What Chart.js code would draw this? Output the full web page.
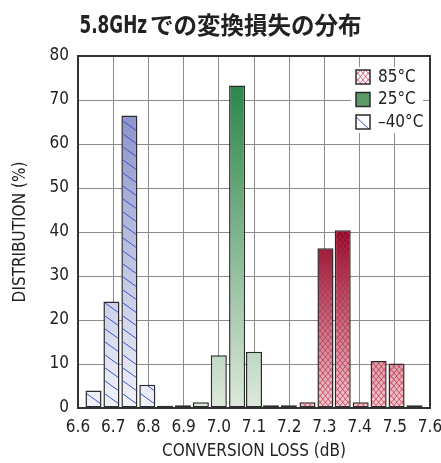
<!DOCTYPE html>
<html>
<head>
<meta charset="utf-8">
<script src="https://cdn.jsdelivr.net/npm/chart.js@4/dist/chart.umd.min.js"></script>
<style>
  html, body { margin: 0; padding: 0; background: #fff; }
  #wrap { width: 441px; height: 463px; }
</style>
</head>
<body>
<div id="wrap"><canvas id="c" width="441" height="463"></canvas></div>
<script>
// Conversion-loss bins (dB), one per histogram bar
const lossBins = [6.644, 6.695, 6.746, 6.797, 6.847, 6.898, 6.949, 7.000, 7.052, 7.100,
                  7.148, 7.199, 7.252, 7.303, 7.352, 7.403, 7.454, 7.505, 7.556];
// Distribution (%) per bin for each temperature
const distM40 = [4.0, 24.2, 66.5, 5.3, 0.5, null, null, null, null, null,
                 null, null, null, null, null, null, null, null, null];
const dist25  = [null, null, null, null, null, 0.6, 1.3, 12.0, 73.3, 12.8,
                 0.6, 0.6, null, null, null, null, null, null, null];
const dist85  = [null, null, null, null, null, null, null, null, null, null,
                 null, null, 1.3, 36.3, 40.4, 1.3, 10.7, 10.1, 0.6];
// Axis ticks
const lossTicks = [6.6, 6.7, 6.8, 6.9, 7.0, 7.1, 7.2, 7.3, 7.4, 7.5, 7.6];
const distTicks = [0, 10, 20, 30, 40, 50, 60, 70, 80];
const seriesLabels = ['–40°C', '25°C', '85°C'];
const titleText = '5.8GHzでの変換損失の分布';

const FONT = '"DejaVu Sans Condensed", "Noto Sans CJK JP", sans-serif';
const INK = '#222';

function points(values) {
  const out = [];
  values.forEach((v, i) => { if (v !== null) out.push({ x: lossBins[i], y: v }); });
  return out;
}

// Vertical gradient spanning from the tallest bar of a series down to zero
function seriesGradient(dark, light) {
  return (ctx) => {
    const chart = ctx.chart;
    if (!chart.chartArea) return light;
    const ds = chart.data.datasets[ctx.datasetIndex];
    const top = chart.scales.y.getPixelForValue(Math.max(...ds.data.map(p => p.y)));
    const bottom = chart.scales.y.getPixelForValue(0);
    const g = chart.ctx.createLinearGradient(0, top, 0, bottom);
    g.addColorStop(0, dark);
    g.addColorStop(1, light);
    return g;
  };
}

function drawHatch(ctx, l, t, r, b, kind) {
  ctx.save();
  ctx.beginPath();
  ctx.rect(l, t, r - l, b - t);
  ctx.clip();
  const w = r - l;
  if (kind === 'diag') {
    ctx.strokeStyle = '#3b57c8';
    ctx.lineWidth = 1;
    const slope = 0.72, gap = 13;
    ctx.beginPath();
    for (let y0 = b + gap; y0 > t - slope * w - gap; y0 -= gap) {
      ctx.moveTo(l, y0);
      ctx.lineTo(r, y0 + slope * w);
    }
    ctx.stroke();
  } else if (kind === 'cross') {
    ctx.strokeStyle = 'rgba(196,36,70,0.85)';
    ctx.lineWidth = 0.8;
    const slope = 1.25, gap = 6.5;
    ctx.beginPath();
    for (let y0 = b + gap; y0 > t - slope * w - gap; y0 -= gap) {
      ctx.moveTo(l, y0);
      ctx.lineTo(r, y0 + slope * w);
      ctx.moveTo(l, y0 + slope * w);
      ctx.lineTo(r, y0);
    }
    ctx.stroke();
  }
  ctx.restore();
}

// Plot frame plus hatching over the bars
const hatchPlugin = {
  id: 'hatch',
  beforeDatasetsDraw(chart) {
    const { ctx, chartArea: a } = chart;
    ctx.save();
    ctx.strokeStyle = '#333';
    ctx.lineWidth = 2;
    ctx.strokeRect(a.left, a.top, a.right - a.left, a.bottom - a.top);
    ctx.restore();
  },
  afterDatasetsDraw(chart) {
    const ctx = chart.ctx;
    chart.data.datasets.forEach((ds, i) => {
      if (!ds.hatch) return;
      chart.getDatasetMeta(i).data.forEach(el => {
        const p = el.getProps(['x', 'y', 'base', 'width'], true);
        const inset = 1;
        drawHatch(ctx, p.x - p.width / 2 + inset, Math.min(p.y, p.base) + inset,
                  p.x + p.width / 2 - inset, Math.max(p.y, p.base) - inset, ds.hatch);
      });
    });
  }
};

// Key drawn in the upper right of the plot
const keyPlugin = {
  id: 'key',
  afterDatasetsDraw(chart) {
    const { ctx, chartArea: a } = chart;
    const x0 = a.right - 79, y0 = a.top + 11, rowH = 22.5, box = 14;
    ctx.save();
    ctx.fillStyle = '#fff';
    ctx.fillRect(x0, y0, 72, 66);
    const order = [2, 1, 0];
    order.forEach((di, row) => {
      const ds = chart.data.datasets[di];
      const bx = x0 + 5, by = y0 + 3 + row * rowH;
      ctx.fillStyle = ds.keyFill;
      ctx.fillRect(bx, by, box, box);
      if (ds.hatch === 'cross') drawHatch(ctx, bx, by, bx + box, by + box, 'cross');
      if (ds.hatch === 'diag') {
        ctx.save();
        ctx.beginPath(); ctx.rect(bx, by, box, box); ctx.clip();
        ctx.strokeStyle = '#3b57c8'; ctx.lineWidth = 1;
        ctx.beginPath(); ctx.moveTo(bx, by + 2); ctx.lineTo(bx + box, by + box + 1); ctx.stroke();
        ctx.restore();
      }
      ctx.strokeStyle = '#2b2b2b';
      ctx.lineWidth = 1.5;
      ctx.strokeRect(bx, by, box, box);
      ctx.fillStyle = INK;
      ctx.font = '17px ' + FONT;
      ctx.textBaseline = 'middle';
      ctx.textAlign = 'left';
      ctx.fillText(ds.label, bx + box + 8, by + box / 2 + 0.5);
    });
    ctx.restore();
  }
};

// Heading: condensed bold Latin run followed by the Japanese run
const headingPlugin = {
  id: 'heading',
  afterDraw(chart) {
    const ctx = chart.ctx;
    const m = titleText.match(/^[\x00-\x7F]+/);
    const latin = m ? m[0] : '';
    const jp = titleText.slice(latin.length);
    const sx = 0.78, baseline = 33, gap = 3;
    ctx.save();
    ctx.fillStyle = INK;
    ctx.textBaseline = 'alphabetic';
    ctx.textAlign = 'left';
    ctx.font = 'bold 24px "DejaVu Sans Condensed", sans-serif';
    const latinW = ctx.measureText(latin).width * sx;
    ctx.font = 'bold 23.5px "Noto Sans CJK JP", sans-serif';
    const jpW = ctx.measureText(jp).width;
    const x0 = chart.width / 2 - (latinW + gap + jpW) / 2;
    ctx.fillText(jp, x0 + latinW + gap, baseline + 1);
    ctx.translate(x0, baseline);
    ctx.scale(sx, 1);
    ctx.font = 'bold 24px "DejaVu Sans Condensed", sans-serif';
    ctx.fillText(latin, 0, 0);
    ctx.restore();
  }
};

new Chart(document.getElementById('c'), {
  type: 'bar',
  data: {
    datasets: [
      { label: seriesLabels[0], data: points(distM40), hatch: 'diag', keyFill: '#ffffff',
        backgroundColor: seriesGradient('#8d94cb', '#f1f2fb') },
      { label: seriesLabels[1], data: points(dist25), hatch: null, keyFill: '#5e9a68',
        backgroundColor: seriesGradient('#2c8748', '#dde9db') },
      { label: seriesLabels[2], data: points(dist85), hatch: 'cross', keyFill: '#ffffff',
        backgroundColor: seriesGradient('#8a0828', '#f2cfd3') }
    ]
  },
  options: {
    responsive: false,
    animation: false,
    devicePixelRatio: 1,
    layout: { padding: { left: 0, right: 11, top: 56, bottom: 0 } },
    datasets: {
      bar: {
        grouped: false,
        barPercentage: 0.95,
        categoryPercentage: 1,
        borderColor: '#2b2b2b',
        borderWidth: 1.5,
        borderSkipped: false
      }
    },
    plugins: {
      legend: { display: false },
      tooltip: { enabled: false },
      title: { display: false }
    },
    scales: {
      x: {
        type: 'linear',
        offset: false,
        min: 6.6, max: 7.6,
        afterBuildTicks(scale) { scale.ticks = lossTicks.map(v => ({ value: v })); },
        afterFit(scale) { scale.height = 55; scale.paddingLeft = 0; scale.paddingRight = 0; },
        ticks: {
          color: INK, padding: 9, maxRotation: 0, autoSkip: false,
          font: { family: FONT, size: 17 },
          callback: (v) => Number(v).toFixed(1)
        },
        grid: { color: '#8c8c8c', lineWidth: 1, drawTicks: false, offset: false },
        border: { display: true, color: '#333', width: 2 },
        title: {
          display: true, text: 'CONVERSION LOSS (dB)', color: INK,
          font: { family: FONT, size: 17 }, padding: { top: 0, bottom: 1 }
        }
      },
      y: {
        min: 0, max: 80,
        afterBuildTicks(scale) { scale.ticks = distTicks.map(v => ({ value: v })); },
        afterFit(scale) { scale.width = 78; scale.paddingTop = 0; scale.paddingBottom = 0; },
        ticks: { color: INK, padding: 9, font: { family: FONT, size: 17 } },
        grid: { color: '#8c8c8c', lineWidth: 1, drawTicks: false },
        border: { display: true, color: '#333', width: 2 },
        title: {
          display: true, text: 'DISTRIBUTION (%)', color: INK,
          font: { family: FONT, size: 17 }, padding: { top: 10, bottom: 0 }
        }
      }
    }
  },
  plugins: [hatchPlugin, keyPlugin, headingPlugin]
});
</script>
</body>
</html>
